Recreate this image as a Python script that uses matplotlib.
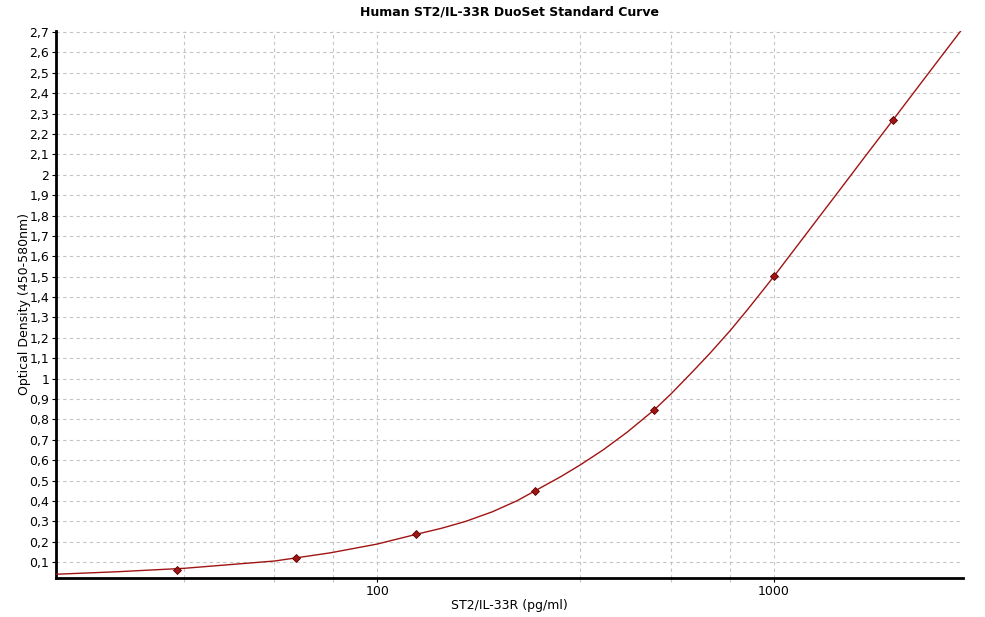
import matplotlib
matplotlib.use("Agg")
import matplotlib.pyplot as plt
from matplotlib.ticker import FixedLocator, FuncFormatter, NullFormatter

# standards (pg/ml) and measured OD
conc = [31.25, 62.5, 125, 250, 500, 1000, 2000]
od = [0.062, 0.122, 0.238, 0.451, 0.848, 1.501, 2.270]

# fitted standard curve
curve_x = [15.5, 22, 32.6, 55.2, 76.2, 100, 125, 145, 167, 195, 225, 250,
           290, 325, 372, 427, 500, 551, 628, 692, 778, 857, 926, 1000, 1190,
           1446, 1715, 2000, 2254, 2582, 2960]
curve_y = [0.041, 0.053, 0.070, 0.106, 0.146, 0.189, 0.236, 0.266, 0.300,
           0.347, 0.401, 0.450, 0.519, 0.577, 0.652, 0.738, 0.848, 0.926,
           1.040, 1.127, 1.238, 1.337, 1.419, 1.501, 1.694, 1.910, 2.100,
           2.270, 2.403, 2.554, 2.705]

y_ticks = [round(0.1 * i, 1) for i in range(1, 28)]
x_major = [100, 1000]
x_grid = [32.5, 55, 77.5, 100, 325, 550, 775, 1000]

RED = "#a01414"

fig = plt.figure(figsize=(9.85, 6.17), dpi=100)
ax = fig.add_axes([0.057, 0.0637, 0.9207, 0.8861])

ax.plot(curve_x, curve_y, color=RED, lw=1.0, zorder=3)
ax.plot(conc, od, linestyle="none", marker="D", markersize=4.5,
        markerfacecolor=RED, markeredgecolor="#5a0000", markeredgewidth=0.6,
        zorder=4)

ax.set_xscale("log")
ax.set_xlim(15.5, 3000)
ax.set_ylim(0.024, 2.705)

ax.xaxis.set_major_locator(FixedLocator(x_major))
ax.xaxis.set_major_formatter(FuncFormatter(lambda v, p: f"{v:g}"))
ax.xaxis.set_minor_locator(FixedLocator(x_grid))
ax.xaxis.set_minor_formatter(NullFormatter())

ax.yaxis.set_major_locator(FixedLocator(y_ticks))
ax.yaxis.set_major_formatter(FuncFormatter(lambda v, p: f"{v:g}".replace(".", ",")))

grid_kw = dict(color="#c4c4c4", lw=0.8, linestyle=(0, (3, 3)))
ax.grid(True, axis="y", which="major", **grid_kw)
ax.grid(True, axis="x", which="both", **grid_kw)

for s in ("top", "right"):
    ax.spines[s].set_visible(False)
for s in ("left", "bottom"):
    ax.spines[s].set_linewidth(2.0)
    ax.spines[s].set_color("black")

ax.tick_params(axis="both", which="both", length=3, width=0.8, color="black",
               labelsize=9, pad=2)
ax.tick_params(axis="x", which="minor", length=3, color="#c4c4c4")

ax.set_title("Human ST2/IL-33R DuoSet Standard Curve", fontsize=9,
             fontweight="bold", pad=11)
ax.set_xlabel("ST2/IL-33R (pg/ml)", fontsize=9, labelpad=1)
ax.set_ylabel("Optical Density (450-580nm)", fontsize=9, labelpad=-1)

fig.savefig("out.png", dpi=100)
